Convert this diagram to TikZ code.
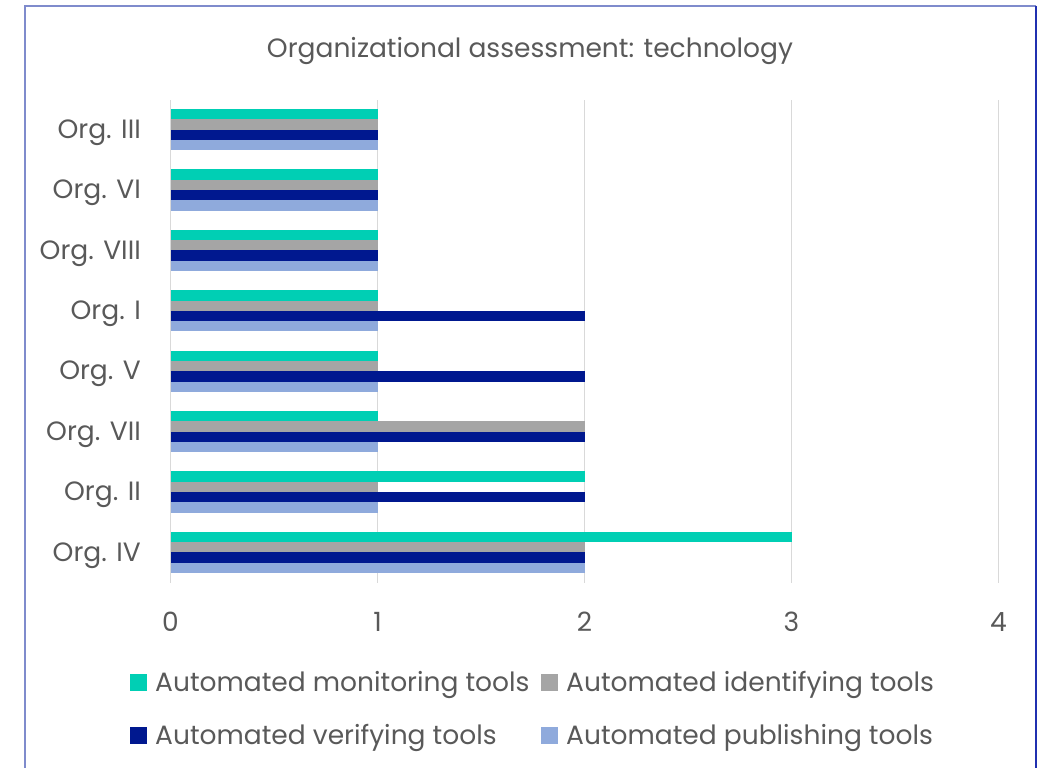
\documentclass[tikz,border=0pt]{standalone}
\usepackage{fontspec}
\setmainfont{Poppins}
\usepackage{xcolor}

\definecolor{monitor}{HTML}{00CFB4}
\definecolor{identify}{HTML}{A5A5A5}
\definecolor{verify}{HTML}{00188F}
\definecolor{publish}{HTML}{8FAADC}
\definecolor{txtgray}{HTML}{595959}
\definecolor{gridgray}{HTML}{D9D9D9}
\definecolor{frameblue}{HTML}{7F8BCC}
\definecolor{frameedge}{HTML}{2030B0}

\tikzset{
  label/.style={text=txtgray, font=\fontsize{26.5}{30}\selectfont, inner sep=0pt},
  legendbox/.style={minimum size=17pt, inner sep=0pt},
}

\begin{document}
\begin{tikzpicture}[x=1pt,y=-1pt]
  \useasboundingbox (0,0) rectangle (1041,768);
  \pgfmathsetmacro{\xo}{170.5} % zero of the value axis [px]
  \pgfmathsetmacro{\u}{207}    % one unit [px]
  \pgfmathsetmacro{\gtop}{109} % top of first group
  \pgfmathsetmacro{\gap}{60.4} % group spacing
  \pgfmathsetmacro{\bh}{10.3}  % bar height

  % frame
  \draw[frameblue, line width=1.5pt] (25,768) -- (25,6) -- (1036,6);
  \draw[frameedge, line width=1.5pt] (1036,6) -- (1036,768);

  % title
  \node[label] (title) at (530,51) {Organizational assessment: technology};

  % grid lines and tick labels
  \foreach \k in {0,...,4} {
    \draw[gridgray, line width=1.5pt] (\xo+\k*\u,100) -- (\xo+\k*\u,583);
    \node[label] (tick\k) at (\xo+\k*\u,622) {\k};
  }

  % bars: name / monitoring, identifying, verifying, publishing
  \foreach \name/\m/\id/\v/\p [count=\i from 0] in {
      III/1/1/1/1, VI/1/1/1/1, VIII/1/1/1/1, I/1/1/2/1,
      V/1/1/2/1, VII/1/2/2/1, II/2/1/2/1, IV/3/2/2/2} {
    \pgfmathsetmacro{\t}{\gtop+\i*\gap}
    \fill[monitor]  (\xo+0.5,\t)       rectangle (\xo+\m*\u,\t+\bh);
    \fill[identify] (\xo+0.5,\t+\bh)   rectangle (\xo+\id*\u,\t+2*\bh);
    \fill[verify]   (\xo+0.5,\t+2*\bh) rectangle (\xo+\v*\u,\t+3*\bh);
    \fill[publish]  (\xo+0.5,\t+3*\bh) rectangle (\xo+\p*\u,\t+4*\bh);
    \node[label, anchor=east] (org\i) at (141,\t+2*\bh+3) {Org. \name};
  }

  % legend
  \node[legendbox, fill=monitor]  (lm) at (138.5,682.5) {};
  \node[label, anchor=west] (lmt) at (155,685) {Automated monitoring tools};
  \node[legendbox, fill=identify] (li) at (549.5,682.5) {};
  \node[label, anchor=west] (lit) at (566,685) {Automated identifying tools};
  \node[legendbox, fill=verify]   (lv) at (138.5,735.5) {};
  \node[label, anchor=west] (lvt) at (155,738) {Automated verifying tools};
  \node[legendbox, fill=publish]  (lp) at (549.5,735.5) {};
  \node[label, anchor=west] (lpt) at (566,738) {Automated publishing tools};
\end{tikzpicture}
\end{document}
